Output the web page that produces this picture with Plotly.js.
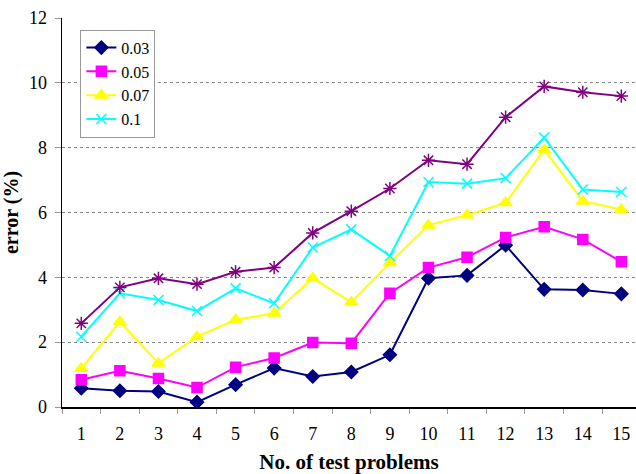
<!DOCTYPE html>
<html>
<head>
<meta charset="utf-8">
<script src="https://cdn.plot.ly/plotly-3.0.1.min.js"></script>
<style>html,body{margin:0;padding:0;background:#fff;}#chart{width:636px;height:474px;}</style>
</head>
<body>
<div id="chart"></div>
<script>
const categories = ["1","2","3","4","5","6","7","8","9","10","11","12","13","14","15"];
const s003 = [0.58,0.50,0.48,0.15,0.69,1.20,0.94,1.08,1.61,3.97,4.06,4.99,3.63,3.61,3.49];
const s005 = [0.84,1.12,0.88,0.60,1.23,1.51,1.99,1.97,3.51,4.30,4.62,5.23,5.56,5.17,4.48];
const s007 = [1.19,2.63,1.35,2.17,2.69,2.89,3.97,3.23,4.45,5.61,5.92,6.30,7.94,6.35,6.09];
const s01  = [2.17,3.51,3.30,2.96,3.66,3.20,4.92,5.48,4.66,6.94,6.89,7.06,8.31,6.71,6.63];
const sTop = [2.58,3.69,3.97,3.79,4.17,4.30,5.37,6.04,6.74,7.61,7.49,8.94,9.89,9.71,9.59];
const seriesNames = ["0.03","0.05","0.07","0.1"];

const font = "Liberation Serif";
function tr(y, name, color, symbol, size, show) {
  return {x: categories, y: y, name: name, type: "scatter", mode: "lines+markers",
    line: {color: color, width: 2},
    marker: {symbol: symbol, size: size, color: color, line: {color: color, width: 1.5}},
    showlegend: show};
}
const data = [
  tr(s003, seriesNames[0], "#000080", "diamond", 10, true),
  tr(s005, seriesNames[1], "#FF00FF", "square", 10, true),
  tr(s007, seriesNames[2], "#FFFF00", "triangle-up", 11, true),
  tr(s01,  seriesNames[3], "#00FFFF", "x-thin-open", 10, true),
  tr(sTop, "", "#800080", "asterisk-open", 11, false)
];
const layout = {
  width: 636, height: 474,
  margin: {l: 62, r: 0, t: 18, b: 67},
  paper_bgcolor: "#fff", plot_bgcolor: "#fff",
  font: {family: font, size: 18, color: "#000"},
  xaxis: {
    type: "category", range: [-0.5, 14.38], tickson: "boundaries",
    ticks: "outside", ticklen: 5, tickcolor: "#999", tickwidth: 1,
    showline: true, linecolor: "#000", linewidth: 1.5, showgrid: false,
    ticklabelstandoff: 10,
    tickfont: {family: font, size: 18},
    title: {text: "<b>No. of test problems</b>", font: {family: font, size: 21}, standoff: 12}
  },
  yaxis: {
    range: [0, 12], dtick: 2, tick0: 0,
    ticks: "outside", ticklen: 6, tickcolor: "#999",
    showline: true, linecolor: "#000", linewidth: 1.5,
    showgrid: true, gridcolor: "#888", griddash: "dot", gridwidth: 1,
    zeroline: false, ticklabelstandoff: 4,
    tickfont: {family: font, size: 18},
    title: {text: "<b>error (%)</b>", font: {family: font, size: 20}, standoff: 6}
  },
  legend: {
    x: 0.032, y: 0.97, xanchor: "left", yanchor: "top",
    bgcolor: "#fff", bordercolor: "#999", borderwidth: 1,
    font: {family: font, size: 16}, tracegroupgap: 0, itemwidth: 30
  }
};
Plotly.newPlot("chart", data, layout, {staticPlot: true});
</script>
</body>
</html>
